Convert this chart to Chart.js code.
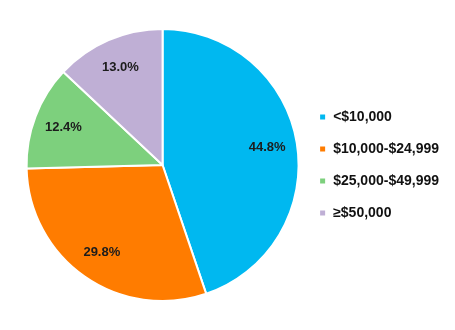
<!DOCTYPE html>
<html>
<head>
<meta charset="utf-8">
<script src="https://cdn.jsdelivr.net/npm/chart.js@4/dist/chart.umd.min.js"></script>
<style>
  html, body { margin: 0; padding: 0; background: #fff; }
  #wrap { width: 455px; height: 330px; }
</style>
</head>
<body>
<div id="wrap"><canvas id="pie" width="455" height="330"></canvas></div>
<script>
// ==================== DATA ====================
const CATEGORIES = ['<$10,000', '$10,000-$24,999', '$25,000-$49,999', '\u2265$50,000'];
const SHARES = [44.8, 29.8, 12.4, 13.0];
const COLORS = ['#00B8F0', '#FF7C00', '#7DD07D', '#BFAFD5'];

// draws the % text inside each slice
const sliceLabels = {
    id: 'sliceLabels',
    afterDatasetsDraw(chart) {
        const ctx = chart.ctx;
        const meta = chart.getDatasetMeta(0);
        ctx.save();
        ctx.font = "bold 13px 'Liberation Sans', Arial, sans-serif";
        ctx.fillStyle = '#1c1c1c';
        ctx.textAlign = 'center';
        ctx.textBaseline = 'middle';
        meta.data.forEach((arc, i) => {
            const mid = (arc.startAngle + arc.endAngle) / 2;
            const r = arc.outerRadius * 0.78;
            ctx.fillText(SHARES[i].toFixed(1) + '%', arc.x + Math.cos(mid) * r, arc.y + Math.sin(mid) * r);
        });
        ctx.restore();
    }
};

new Chart(document.getElementById('pie'), {
    type: 'pie',
    data: {
        labels: CATEGORIES,
        datasets: [{
            data: SHARES,
            backgroundColor: COLORS,
            borderColor: '#fff',
            borderWidth: 2
        }]
    },
    options: {
        responsive: false,
        animation: false,
        layout: { padding: { top: 28, bottom: 28, left: 24, right: 6 } },
        plugins: {
            tooltip: { enabled: false },
            legend: {
                position: 'right',
                labels: {
                    boxWidth: 7,
                    boxHeight: 7,
                    padding: 18,
                    color: '#111',
                    font: { family: "'Liberation Sans', Arial, sans-serif", size: 14, weight: 'bold' }
                }
            }
        }
    },
    plugins: [sliceLabels]
});
</script>
</body>
</html>
